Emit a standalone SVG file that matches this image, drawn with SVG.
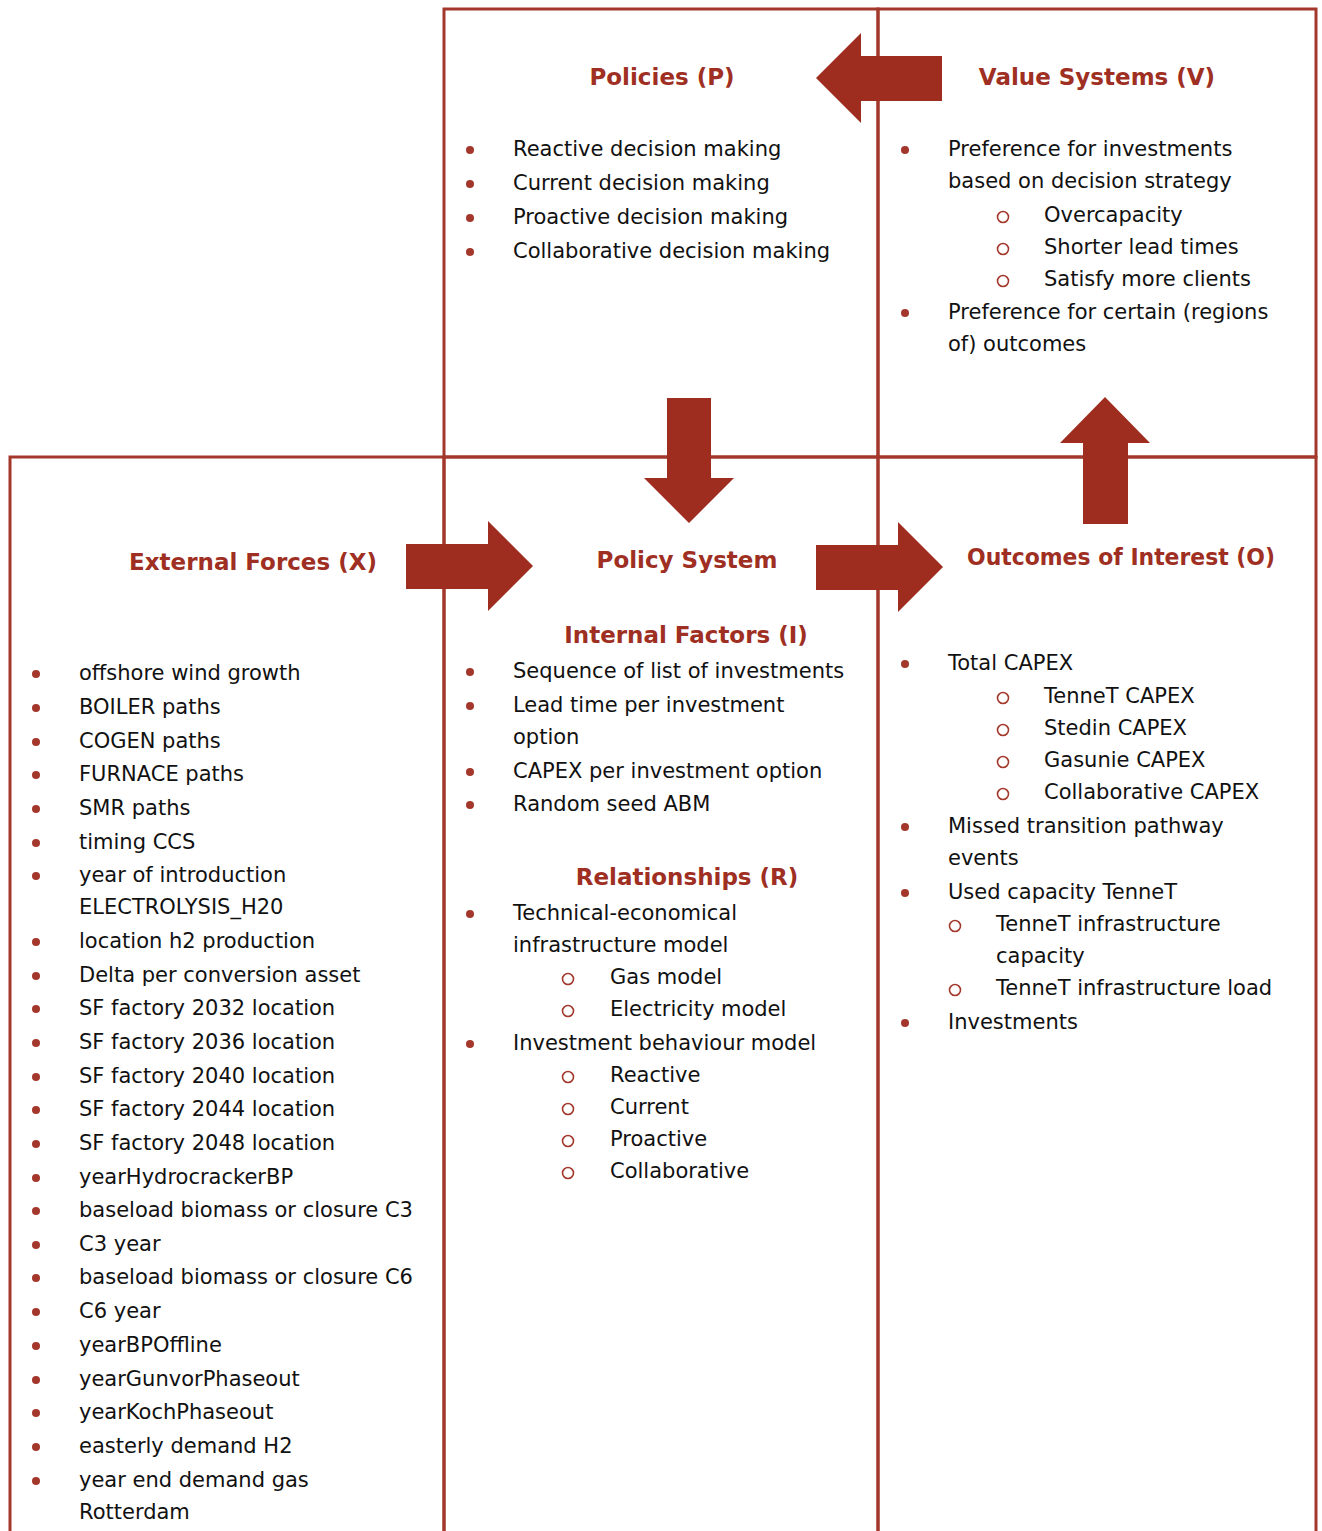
<svg xmlns="http://www.w3.org/2000/svg" width="1322" height="1531" viewBox="0 0 1322 1531">
  <style>
    .box { fill: none; stroke: #A3372B; stroke-width: 3; }
    .title { font-family: "DejaVu Sans", "Liberation Sans", sans-serif; font-weight: bold; font-size: 23px; fill: #9E2F22; text-anchor: middle; }
    .item { font-family: "DejaVu Sans", "Liberation Sans", sans-serif; font-size: 21px; fill: #111; }
    .dot { fill: #A3372B; }
    .ring { fill: none; stroke: #A3372B; stroke-width: 1.6; }
    .arrow { fill: #9E2D20; }
  </style>
  <rect width="1322" height="1531" fill="#fff"/>

  <!-- Policies quadrant -->
  <g id="policies">
    <rect class="box" x="444" y="9" width="434" height="448"/>
    <text class="title" x="662" y="85">Policies (P)</text>
    <circle class="dot" cx="470" cy="150" r="4"/>
    <circle class="dot" cx="470" cy="184" r="4"/>
    <circle class="dot" cx="470" cy="218" r="4"/>
    <circle class="dot" cx="470" cy="252" r="4"/>
    <g transform="translate(0,-1)">
      <text class="item" x="513" y="157">Reactive decision making</text>
      <text class="item" x="513" y="191">Current decision making</text>
      <text class="item" x="513" y="225">Proactive decision making</text>
      <text class="item" x="513" y="259">Collaborative decision making</text>
    </g>
  </g>

  <!-- Value Systems quadrant -->
  <g id="value-systems">
    <rect class="box" x="878" y="9" width="438" height="448"/>
    <text class="title" x="1097" y="85">Value Systems (V)</text>
    <circle class="dot" cx="905" cy="150" r="4"/>
    <circle class="ring" cx="1003" cy="217" r="5.5"/>
    <circle class="ring" cx="1003" cy="249" r="5.5"/>
    <circle class="ring" cx="1003" cy="281" r="5.5"/>
    <circle class="dot" cx="905" cy="313" r="4"/>
    <g transform="translate(0,-1)">
      <text class="item" x="948" y="157">Preference for investments</text>
      <text class="item" x="948" y="189">based on decision strategy</text>
      <text class="item" x="1044" y="223">Overcapacity</text>
      <text class="item" x="1044" y="255">Shorter lead times</text>
      <text class="item" x="1044" y="287">Satisfy more clients</text>
      <text class="item" x="948" y="320">Preference for certain (regions</text>
      <text class="item" x="948" y="352">of) outcomes</text>
    </g>
  </g>

  <!-- External Forces quadrant -->
  <g id="external-forces">
    <rect class="box" x="10" y="457" width="434" height="1090"/>
    <text class="title" x="253" y="570">External Forces (X)</text>
    <g>
      <circle class="dot" cx="36" cy="674" r="4"/>
      <circle class="dot" cx="36" cy="708" r="4"/>
      <circle class="dot" cx="36" cy="742" r="4"/>
      <circle class="dot" cx="36" cy="775" r="4"/>
      <circle class="dot" cx="36" cy="809" r="4"/>
      <circle class="dot" cx="36" cy="843" r="4"/>
      <circle class="dot" cx="36" cy="876" r="4"/>
      <circle class="dot" cx="36" cy="942" r="4"/>
      <circle class="dot" cx="36" cy="976" r="4"/>
      <circle class="dot" cx="36" cy="1009" r="4"/>
      <circle class="dot" cx="36" cy="1043" r="4"/>
      <circle class="dot" cx="36" cy="1077" r="4"/>
      <circle class="dot" cx="36" cy="1110" r="4"/>
      <circle class="dot" cx="36" cy="1144" r="4"/>
      <circle class="dot" cx="36" cy="1178" r="4"/>
      <circle class="dot" cx="36" cy="1211" r="4"/>
      <circle class="dot" cx="36" cy="1245" r="4"/>
      <circle class="dot" cx="36" cy="1278" r="4"/>
      <circle class="dot" cx="36" cy="1312" r="4"/>
      <circle class="dot" cx="36" cy="1346" r="4"/>
      <circle class="dot" cx="36" cy="1380" r="4"/>
      <circle class="dot" cx="36" cy="1413" r="4"/>
      <circle class="dot" cx="36" cy="1447" r="4"/>
      <circle class="dot" cx="36" cy="1481" r="4"/>
    </g>
    <g transform="translate(0,-1)">
      <text class="item" x="79" y="681">offshore wind growth</text>
      <text class="item" x="79" y="715">BOILER paths</text>
      <text class="item" x="79" y="749">COGEN paths</text>
      <text class="item" x="79" y="782">FURNACE paths</text>
      <text class="item" x="79" y="816">SMR paths</text>
      <text class="item" x="79" y="850">timing CCS</text>
      <text class="item" x="79" y="883">year of introduction</text>
      <text class="item" x="79" y="915">ELECTROLYSIS_H20</text>
      <text class="item" x="79" y="949">location h2 production</text>
      <text class="item" x="79" y="983">Delta per conversion asset</text>
      <text class="item" x="79" y="1016">SF factory 2032 location</text>
      <text class="item" x="79" y="1050">SF factory 2036 location</text>
      <text class="item" x="79" y="1084">SF factory 2040 location</text>
      <text class="item" x="79" y="1117">SF factory 2044 location</text>
      <text class="item" x="79" y="1151">SF factory 2048 location</text>
      <text class="item" x="79" y="1185">yearHydrocrackerBP</text>
      <text class="item" x="79" y="1218">baseload biomass or closure C3</text>
      <text class="item" x="79" y="1252">C3 year</text>
      <text class="item" x="79" y="1285">baseload biomass or closure C6</text>
      <text class="item" x="79" y="1319">C6 year</text>
      <text class="item" x="79" y="1353">yearBPOffline</text>
      <text class="item" x="79" y="1387">yearGunvorPhaseout</text>
      <text class="item" x="79" y="1420">yearKochPhaseout</text>
      <text class="item" x="79" y="1454">easterly demand H2</text>
      <text class="item" x="79" y="1488">year end demand gas</text>
      <text class="item" x="79" y="1520">Rotterdam</text>
    </g>
  </g>

  <!-- Policy System quadrant -->
  <g id="policy-system">
    <rect class="box" x="444" y="457" width="434" height="1090"/>
    <text class="title" x="687" y="568">Policy System</text>
    <text class="title" x="686" y="643">Internal Factors (I)</text>
    <text class="title" x="687" y="885">Relationships (R)</text>
    <circle class="dot" cx="470" cy="672" r="4"/>
    <circle class="dot" cx="470" cy="706" r="4"/>
    <circle class="dot" cx="470" cy="772" r="4"/>
    <circle class="dot" cx="470" cy="805" r="4"/>
    <circle class="dot" cx="470" cy="914" r="4"/>
    <circle class="ring" cx="568" cy="979" r="5.5"/>
    <circle class="ring" cx="568" cy="1011" r="5.5"/>
    <circle class="dot" cx="470" cy="1044" r="4"/>
    <circle class="ring" cx="568" cy="1077" r="5.5"/>
    <circle class="ring" cx="568" cy="1109" r="5.5"/>
    <circle class="ring" cx="568" cy="1141" r="5.5"/>
    <circle class="ring" cx="568" cy="1173" r="5.5"/>
    <g transform="translate(0,-1)">
      <text class="item" x="513" y="679">Sequence of list of investments</text>
      <text class="item" x="513" y="713">Lead time per investment</text>
      <text class="item" x="513" y="745">option</text>
      <text class="item" x="513" y="779">CAPEX per investment option</text>
      <text class="item" x="513" y="812">Random seed ABM</text>
      <text class="item" x="513" y="921">Technical-economical</text>
      <text class="item" x="513" y="953">infrastructure model</text>
      <text class="item" x="610" y="985">Gas model</text>
      <text class="item" x="610" y="1017">Electricity model</text>
      <text class="item" x="513" y="1051">Investment behaviour model</text>
      <text class="item" x="610" y="1083">Reactive</text>
      <text class="item" x="610" y="1115">Current</text>
      <text class="item" x="610" y="1147">Proactive</text>
      <text class="item" x="610" y="1179">Collaborative</text>
    </g>
  </g>

  <!-- Outcomes of Interest quadrant -->
  <g id="outcomes">
    <rect class="box" x="878" y="457" width="438" height="1090"/>
    <text class="title" x="1121" y="565" textLength="308" lengthAdjust="spacingAndGlyphs">Outcomes of Interest (O)</text>
    <circle class="dot" cx="905" cy="664" r="4"/>
    <circle class="ring" cx="1003" cy="698" r="5.5"/>
    <circle class="ring" cx="1003" cy="730" r="5.5"/>
    <circle class="ring" cx="1003" cy="762" r="5.5"/>
    <circle class="ring" cx="1003" cy="794" r="5.5"/>
    <circle class="dot" cx="905" cy="827" r="4"/>
    <circle class="dot" cx="905" cy="893" r="4"/>
    <circle class="ring" cx="955" cy="926" r="5.5"/>
    <circle class="ring" cx="955" cy="990" r="5.5"/>
    <circle class="dot" cx="905" cy="1023" r="4"/>
    <g transform="translate(0,-1)">
      <text class="item" x="948" y="671">Total CAPEX</text>
      <text class="item" x="1044" y="704">TenneT CAPEX</text>
      <text class="item" x="1044" y="736">Stedin CAPEX</text>
      <text class="item" x="1044" y="768">Gasunie CAPEX</text>
      <text class="item" x="1044" y="800">Collaborative CAPEX</text>
      <text class="item" x="948" y="834">Missed transition pathway</text>
      <text class="item" x="948" y="866">events</text>
      <text class="item" x="948" y="900">Used capacity TenneT</text>
      <text class="item" x="996" y="932">TenneT infrastructure</text>
      <text class="item" x="996" y="964">capacity</text>
      <text class="item" x="996" y="996">TenneT infrastructure load</text>
      <text class="item" x="948" y="1030">Investments</text>
    </g>
  </g>

  <!-- Block arrows between the quadrants -->
  <g id="connectors">
    <!-- Value Systems to Policies -->
    <polygon class="arrow" points="942,56 861,56 861,33 816,78 861,123 861,101 942,101"/>
    <!-- Policies down to Policy System -->
    <polygon class="arrow" points="667,398 711,398 711,478 734,478 689,523 644,478 667,478"/>
    <!-- External Forces to Policy System -->
    <polygon class="arrow" points="406,544 488,544 488,521 533,566 488,611 488,589 406,589"/>
    <!-- Policy System to Outcomes -->
    <polygon class="arrow" points="816,545 898,545 898,522 943,567 898,612 898,590 816,590"/>
    <!-- Outcomes up to Value Systems -->
    <polygon class="arrow" points="1083,524 1083,443 1060,443 1105,397 1150,443 1128,443 1128,524"/>
  </g>
</svg>
